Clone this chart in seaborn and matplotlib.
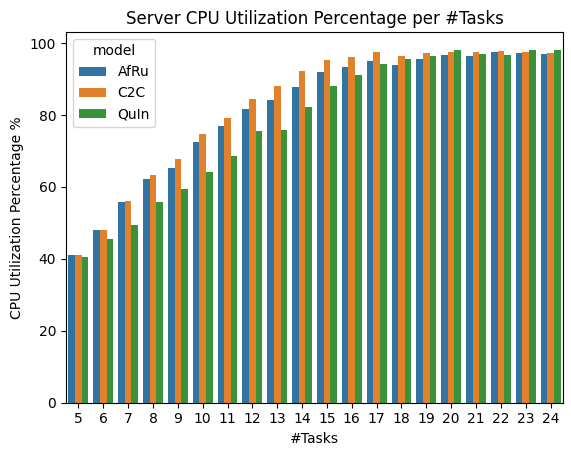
import matplotlib
matplotlib.use("Agg")
import matplotlib.pyplot as plt
import seaborn as sns
import pandas as pd

tasks = list(range(5, 25))
afru = [41.2, 47.9, 55.7, 62.1, 65.2, 72.4, 76.9, 81.6, 84.1, 87.8,
        92.0, 93.3, 95.0, 93.9, 95.6, 96.7, 96.4, 97.5, 97.2, 97.0]
c2c = [41.2, 48.1, 56.0, 63.2, 67.7, 74.7, 79.1, 84.4, 88.1, 92.2,
       95.3, 96.1, 97.5, 96.4, 97.3, 97.5, 97.5, 97.8, 97.5, 97.2]
quin = [40.6, 45.4, 49.5, 55.7, 59.3, 64.2, 68.7, 75.5, 75.8, 82.2,
        88.1, 91.2, 94.2, 95.6, 96.4, 98.1, 97.0, 96.7, 98.1, 98.2]

df = pd.concat([
    pd.DataFrame({"#Tasks": tasks, "util": afru, "model": "AfRu"}),
    pd.DataFrame({"#Tasks": tasks, "util": c2c, "model": "C2C"}),
    pd.DataFrame({"#Tasks": tasks, "util": quin, "model": "QuIn"}),
])

fig, ax = plt.subplots(figsize=(5.71, 4.55), dpi=100)
sns.barplot(data=df, x="#Tasks", y="util", hue="model", ax=ax)
ax.set_title("Server CPU Utilization Percentage per #Tasks")
ax.set_ylabel("CPU Utilization Percentage %")
ax.set_xlabel("#Tasks")
fig.subplots_adjust(left=0.1156, right=0.986, top=0.9297, bottom=0.115)
plt.savefig("out.png")
